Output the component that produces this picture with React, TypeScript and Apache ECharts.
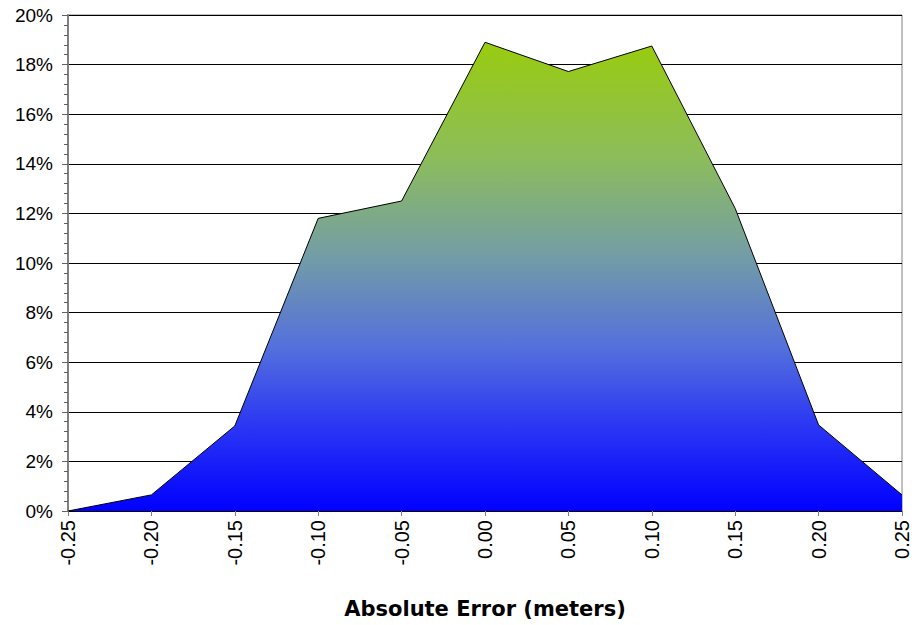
import React, { useEffect, useRef } from "react";
import * as echarts from "echarts";

const categories = ["-0.25", "-0.20", "-0.15", "-0.10", "-0.05", "0.00", "0.05", "0.10", "0.15", "0.20", "0.25"];
const percentValues = [0, 0.65, 3.43, 11.8, 12.5, 18.9, 17.72, 18.75, 12.2, 3.47, 0.65];
const axisTitle = "Absolute Error (meters)";

export default function App() {
  const ref = useRef<HTMLDivElement>(null);
  useEffect(() => {
    const chart = echarts.init(ref.current!, null, { renderer: "svg" });
    chart.setOption({
      animation: false,
      grid: {
        left: 68,
        right: 8,
        top: 15,
        bottom: 114,
        show: true,
        borderColor: "#808080",
        borderWidth: 1,
      },
      xAxis: {
        type: "category",
        data: categories,
        boundaryGap: false,
        name: axisTitle,
        nameLocation: "middle",
        nameGap: 87,
        nameTextStyle: { fontFamily: "DejaVu Sans", fontWeight: "bold", fontSize: 21, color: "#000" },
        axisLine: { show: true, lineStyle: { color: "#000", width: 1 } },
        axisTick: { show: true, alignWithLabel: true, length: 5, lineStyle: { color: "#808080" } },
        axisLabel: {
          rotate: 90,
          margin: 9,
          fontFamily: "Liberation Sans",
          fontSize: 20,
          color: "#000",
        },
        splitLine: { show: false },
      },
      yAxis: {
        type: "value",
        min: 0,
        max: 20,
        interval: 2,
        axisLine: { show: true, lineStyle: { color: "#808080", width: 2 } },
        axisTick: { show: true, length: 6, lineStyle: { color: "#606060", width: 1 } },
        minorTick: { show: true, splitNumber: 5, length: 4, lineStyle: { color: "#606060", width: 1 } },
        axisLabel: {
          formatter: (v: number) => `${v}%`,
          fontFamily: "Liberation Sans",
          fontSize: 19,
          color: "#000",
          margin: 15,
        },
        splitLine: { show: true, lineStyle: { color: "#000", width: 1 } },
      },
      series: [
        {
          type: "line",
          data: percentValues,
          symbol: "none",
          lineStyle: { color: "#000", width: 1 },
          areaStyle: {
            opacity: 1,
            color: new echarts.graphic.LinearGradient(0, 0, 0, 1, [
              { offset: 0, color: "#99cc0e" },
              { offset: 0.25, color: "#8cbc5c" },
              { offset: 0.45, color: "#749ea4" },
              { offset: 0.65, color: "#5470dc" },
              { offset: 0.82, color: "#2a36f4" },
              { offset: 1, color: "#0000ff" },
            ]),
          },
        },
      ],
    });
    return () => chart.dispose();
  }, []);
  return <div ref={ref} style={{ width: 912, height: 625, position: "absolute", left: 0, top: 0 }} />;
}
